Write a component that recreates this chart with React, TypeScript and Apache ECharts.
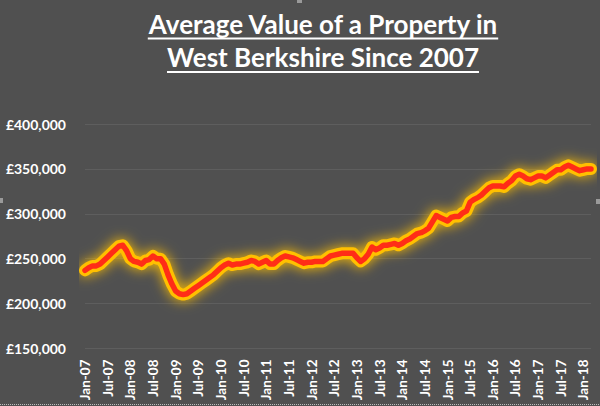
import { useEffect, useRef } from 'react';
import * as echarts from 'echarts';

const MONTHS = ['Jan', 'Feb', 'Mar', 'Apr', 'May', 'Jun', 'Jul', 'Aug', 'Sep', 'Oct', 'Nov', 'Dec'];
const YEARS = ['07', '08', '09', '10', '11', '12', '13', '14', '15', '16', '17', '18'];
const MONTH_COUNT = 135; // Jan-07 .. Mar-18

const CATEGORIES: string[] = [];
for (const y of YEARS) {
  for (const m of MONTHS) {
    if (CATEGORIES.length < MONTH_COUNT) CATEGORIES.push(`${m}-${y}`);
  }
}

const PRICES = [
  237000, 240000, 242000, 242000, 244000, 248000, 252000, 256000, 260000, 264000, 265000, 259000,
  250000, 247000, 246000, 244000, 248000, 249000, 253000, 250000, 250000, 244000, 232000, 222000,
  214000, 211000, 210000, 211000, 214000, 217000, 220000, 223000, 226000, 229000, 232000, 236000,
  240000, 243000, 245000, 243000, 244000, 244000, 245000, 246000, 248000, 247000, 244000, 246000,
  248000, 244000, 244000, 248000, 251000, 253000, 252000, 251000, 249000, 247000, 245000, 246000,
  246000, 247000, 247000, 247000, 250000, 253000, 254000, 255000, 256000, 256000, 256000, 256000,
  251000, 247000, 250000, 255000, 263000, 260000, 262000, 265000, 265000, 266000, 267000, 265000,
  267000, 270000, 272000, 275000, 278000, 279000, 281000, 284000, 291000, 298000, 296000, 294000,
  292000, 296000, 297000, 297000, 301000, 303000, 313000, 316000, 318000, 321000, 325000, 329000,
  331000, 331000, 331000, 330000, 334000, 337000, 342000, 344000, 342000, 339000, 338000, 340000,
  342000, 342000, 340000, 343000, 346000, 349000, 349000, 352000, 354000, 352000, 350000, 348000,
  349000, 350000, 350000,
];

const Y_TICKS = [150000, 200000, 250000, 300000, 350000, 400000];
const TITLE_LINES = ['Average Value of a Property in', 'West Berkshire Since 2007'];

const FONT = 'Lato, "Open Sans", "Noto Sans", sans-serif';

function measure(text: string, font: string): number {
  const c = document.createElement('canvas').getContext('2d');
  if (!c) return text.length * 11;
  c.font = font;
  return c.measureText(text).width;
}

export default function App() {
  const ref = useRef<HTMLDivElement>(null);

  useEffect(() => {
    if (!ref.current) return;
    const chart = echarts.init(ref.current, null, { renderer: 'svg' });

    const titleX = 323;
    const base = measure(TITLE_LINES[0], 'bold 22px Lato');
    const titleSize = Math.round((22 * 351) / base * 2) / 2;
    const titleFont = `bold ${titleSize}px Lato`;
    const w1 = measure(TITLE_LINES[0], titleFont);
    const w2 = measure(TITLE_LINES[1], titleFont);

    chart.setOption({
      animation: false,
      backgroundColor: '#505050',
      grid: { left: 85, right: 9, top: 124, bottom: 57.5, containLabel: false },
      xAxis: {
        type: 'category',
        data: CATEGORIES,
        boundaryGap: false,
        axisLine: { show: false },
        axisTick: { show: false },
        axisLabel: {
          interval: 5,
          rotate: 90,
          margin: 11,
          color: '#ffffff',
          fontFamily: FONT,
          fontWeight: 'bold',
          fontSize: 13.5,
        },
        splitLine: { show: false },
      },
      yAxis: {
        type: 'value',
        min: Y_TICKS[0],
        max: Y_TICKS[Y_TICKS.length - 1],
        interval: Y_TICKS[1] - Y_TICKS[0],
        axisLine: { show: false },
        axisTick: { show: false },
        axisLabel: {
          margin: 19,
          color: '#ffffff',
          fontFamily: FONT,
          fontWeight: 'bold',
          fontSize: 14,
          formatter: (v: number) => '£' + v.toLocaleString('en-GB'),
        },
        splitLine: { lineStyle: { color: '#5e5e5e', width: 1 } },
      },
      series: [
        {
          type: 'line',
          data: PRICES,
          showSymbol: false,
          silent: true,
          z: 1,
          lineStyle: {
            color: '#ffc000',
            width: 12,
            cap: 'round',
            join: 'round',
            shadowColor: '#ffc000',
            shadowBlur: 13,
          },
        },
        {
          type: 'line',
          data: PRICES,
          showSymbol: false,
          silent: true,
          z: 2,
          lineStyle: { color: '#ff2d17', width: 5.5, cap: 'round', join: 'round' },
        },
      ],
      graphic: [
        {
          type: 'text',
          x: titleX,
          y: 11,
          style: {
            text: TITLE_LINES[0],
            fill: '#ffffff',
            font: titleFont,
            textAlign: 'center',
            textVerticalAlign: 'top',
          },
        },
        {
          type: 'text',
          x: titleX,
          y: 44,
          style: {
            text: TITLE_LINES[1],
            fill: '#ffffff',
            font: titleFont,
            textAlign: 'center',
            textVerticalAlign: 'top',
          },
        },
        {
          type: 'line',
          shape: { x1: titleX - w1 / 2, y1: 38.5, x2: titleX + w1 / 2, y2: 38.5 },
          style: { stroke: '#ffffff', lineWidth: 1.8 },
        },
        {
          type: 'line',
          shape: { x1: titleX - w2 / 2, y1: 72, x2: titleX + w2 / 2, y2: 72 },
          style: { stroke: '#ffffff', lineWidth: 1.8 },
        },
        { type: 'rect', shape: { x: 0, y: 198, width: 3, height: 5 }, style: { fill: '#9a9a9a' } },
        { type: 'rect', shape: { x: 596, y: 199, width: 4, height: 5 }, style: { fill: '#9a9a9a' } },
        { type: 'rect', shape: { x: 297, y: 0, width: 5, height: 3 }, style: { fill: '#9a9a9a' } },
        {
          type: 'line',
          shape: { x1: 0, y1: 404.5, x2: 600, y2: 404.5 },
          style: { stroke: '#bdbdbd', lineWidth: 1, lineDash: [1, 1] },
        },
      ],
    });

    return () => chart.dispose();
  }, []);

  return (
    <div
      ref={ref}
      style={{ position: 'fixed', left: 0, top: 0, width: 600, height: 406 }}
    />
  );
}
